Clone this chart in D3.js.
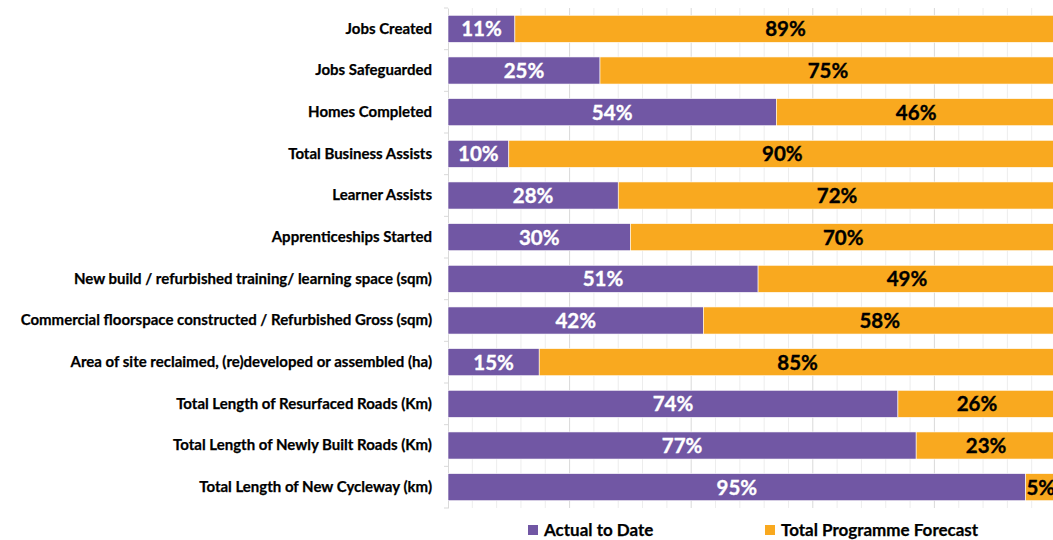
<!DOCTYPE html>
<html>
<head>
<meta charset="utf-8">
<script src="https://cdn.jsdelivr.net/npm/d3@7"></script>
<style>
  body { margin: 0; background: #fff; }
  svg { display: block; font-family: Lato, "Open Sans", sans-serif; font-weight: bold; }
</style>
</head>
<body>
<svg width="1053" height="540"></svg>
<script>
// chart data
const categories = [
    "Jobs Created",
    "Jobs Safeguarded",
    "Homes Completed",
    "Total Business Assists",
    "Learner Assists",
    "Apprenticeships Started",
    "New build / refurbished training/ learning space (sqm)",
    "Commercial floorspace constructed / Refurbished Gross (sqm)",
    "Area of site reclaimed, (re)developed or assembled (ha)",
    "Total Length of Resurfaced Roads (Km)",
    "Total Length of Newly Built Roads (Km)",
    "Total Length of New Cycleway (km)"
];
const actualToDate = [11, 25, 54, 10, 28, 30, 51, 42, 15, 74, 77, 95];
const programmeForecast = [89, 75, 46, 90, 72, 70, 49, 58, 85, 26, 23, 5];
const seriesNames = ["Actual to Date", "Total Programme Forecast"];
const colors = ["#7157A4", "#F9A91F"];

const svg = d3.select("svg");

// plot area (right end is clipped by the window, as in the source)
const plotLeft = 448, plotRight = 1056, plotTop = 8, plotBottom = 508;

const x = d3.scaleLinear().domain([0, 100]).range([plotLeft, plotRight]);
const y = d3.scaleBand().domain(categories).range([plotTop, plotBottom]).paddingInner(0.35).paddingOuter(0.175);

// gridlines
const grid = svg.append("g");
grid.selectAll("line.minor")
    .data(d3.range(0, 101, 4).filter(v => v % 20 !== 0))
    .enter().append("line")
    .attr("x1", d => x(d)).attr("x2", d => x(d))
    .attr("y1", plotTop).attr("y2", plotBottom)
    .attr("stroke", "#EDEDED").attr("stroke-width", 1);
grid.selectAll("line.major")
    .data(d3.range(20, 101, 20))
    .enter().append("line")
    .attr("x1", d => x(d)).attr("x2", d => x(d))
    .attr("y1", plotTop).attr("y2", plotBottom)
    .attr("stroke", "#D9D9D9").attr("stroke-width", 1);

// category axis
const yAxis = svg.append("g")
    .attr("transform", `translate(${plotLeft},0)`)
    .call(d3.axisLeft(y).tickSize(0).tickPadding(16));
yAxis.select(".domain").attr("stroke", "#D9D9D9");
yAxis.selectAll("text")
    .attr("font-size", 15)
    .attr("font-family", "Lato, sans-serif")
    .attr("font-weight", "bold")
    .attr("fill", "#000")
    .attr("stroke", "#000")
    .attr("stroke-width", 0.25);
// small ticks at the band edges
yAxis.selectAll("line.edge")
    .data(d3.range(categories.length + 1))
    .enter().append("line")
    .attr("x1", -4).attr("x2", 0)
    .attr("y1", i => plotTop + i * y.step()).attr("y2", i => plotTop + i * y.step())
    .attr("stroke", "#D9D9D9");

// stacked bars
const rows = categories.map((c, i) => ({ cat: c, a: actualToDate[i], f: programmeForecast[i] }));

const bars = svg.append("g");
const segs = [];
rows.forEach(r => {
    segs.push({ cat: r.cat, x0: 0, x1: r.a, v: r.a, s: 0 });
    segs.push({ cat: r.cat, x0: r.a, x1: r.a + r.f, v: r.f, s: 1 });
});

bars.selectAll("rect")
    .data(segs)
    .enter().append("rect")
    .attr("x", d => x(d.x0))
    .attr("y", d => y(d.cat))
    .attr("width", d => x(d.x1) - x(d.x0))
    .attr("height", y.bandwidth())
    .attr("fill", d => colors[d.s])
    .attr("stroke", "#fff")
    .attr("stroke-width", 0.6);

bars.selectAll("text")
    .data(segs)
    .enter().append("text")
    .attr("x", d => x((d.x0 + d.x1) / 2))
    .attr("y", d => y(d.cat) + y.bandwidth() / 2)
    .attr("dy", "0.36em")
    .attr("text-anchor", "middle")
    .attr("font-size", 20.5)
    .attr("fill", d => d.s === 0 ? "#fff" : "#000")
    .attr("stroke", d => d.s === 0 ? "#fff" : "#000")
    .attr("stroke-width", 0.35)
    .text(d => d.v + "%");

// legend
const legend = svg.append("g");
const legendX = [528, 765];
seriesNames.forEach((name, i) => {
    legend.append("rect")
        .attr("x", legendX[i]).attr("y", 525)
        .attr("width", 10).attr("height", 10)
        .attr("fill", colors[i]);
    legend.append("text")
        .attr("x", legendX[i] + 16).attr("y", 536)
        .attr("font-size", 17)
        .attr("fill", "#000")
        .attr("stroke", "#000")
        .attr("stroke-width", 0.25)
        .text(name);
});
</script>
</body>
</html>
